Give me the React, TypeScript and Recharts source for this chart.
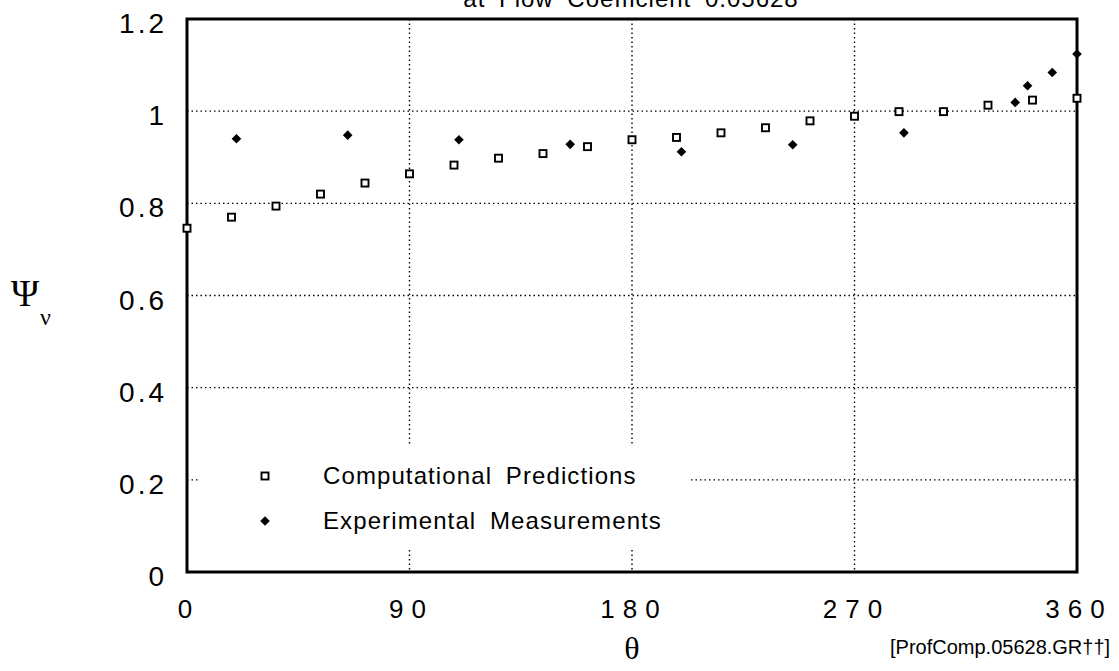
import {
  CartesianGrid,
  Legend,
  ReferenceArea,
  Scatter,
  ScatterChart,
  XAxis,
  YAxis,
} from "recharts";

// computational predictions (every 18 deg)
const compTheta = [0, 18, 36, 54, 72, 90, 108, 126, 144, 162, 180, 198, 216, 234, 252, 270, 288, 306, 324, 342, 360];
const compPsi = [
  0.746, 0.77, 0.794, 0.82, 0.844, 0.864, 0.883, 0.898, 0.908, 0.923, 0.938, 0.943, 0.953, 0.964, 0.979, 0.989,
  0.999, 0.999, 1.013, 1.024, 1.028,
];

// experimental measurements
const expTheta = [20, 65, 110, 155, 200, 245, 290, 335, 340, 350, 360];
const expPsi = [0.94, 0.948, 0.938, 0.928, 0.912, 0.927, 0.953, 1.019, 1.055, 1.084, 1.124];

const xTicks = [0, 90, 180, 270, 360];
const yTicks = [0, 0.2, 0.4, 0.6, 0.8, 1, 1.2];

const COMP_NAME = "Computational Predictions";
const EXP_NAME = "Experimental Measurements";

const FONT = "'Liberation Sans', Arial, Helvetica, sans-serif";
const SERIF = "'Liberation Serif', 'Times New Roman', serif";
const X_SPACING = 8;
const Y_SPACING = 3;

const compData = compTheta.map((theta, i) => ({ theta, psi: compPsi[i] }));
const expData = expTheta.map((theta, i) => ({ theta, psi: expPsi[i] }));

const SquareMark = ({ cx, cy }: { cx?: number; cy?: number }) => (
  <rect x={(cx ?? 0) - 3.5} y={(cy ?? 0) - 3.5} width={7} height={7} fill="#fff" stroke="#000" strokeWidth={1.9} />
);

const DiamondMark = ({ cx, cy }: { cx?: number; cy?: number }) => {
  const x = cx ?? 0;
  const y = cy ?? 0;
  const r = 4.8;
  return <polygon points={`${x},${y - r} ${x + r},${y} ${x},${y + r} ${x - r},${y}`} fill="#000" />;
};

const XTick = ({ x, y, payload }: any) => (
  <text
    x={x + X_SPACING / 2 - 2}
    y={y + 46}
    textAnchor="middle"
    fontFamily={FONT}
    fontSize={26}
    letterSpacing={X_SPACING}
    fill="#000"
  >
    {String(payload.value)}
  </text>
);

const YTick = ({ x, y, payload }: any) => (
  <text
    x={x - 20}
    y={y + 14}
    textAnchor="end"
    fontFamily={FONT}
    fontSize={28}
    letterSpacing={Y_SPACING}
    fill="#000"
  >
    {String(payload.value)}
  </text>
);

const renderLegend = (props: any) => {
  const items = props.payload ?? [];
  return (
    <div style={{ position: "relative", width: 490, height: 105, fontFamily: FONT }}>
      {items.map((entry: any, i: number) => (
        <div key={entry.value} style={{ position: "absolute", left: 0, top: 31 + i * 45 - 15, height: 30, width: 490 }}>
          <svg width={20} height={20} style={{ position: "absolute", left: 55, top: 5 }}>
            {entry.value === COMP_NAME ? <SquareMark cx={10} cy={10} /> : <DiamondMark cx={10} cy={10} />}
          </svg>
          <span
            style={{
              position: "absolute",
              left: 123,
              top: 0,
              lineHeight: "30px",
              fontSize: 24,
              letterSpacing: 1.1,
              wordSpacing: 6,
              color: "#000",
              whiteSpace: "nowrap",
            }}
          >
            {entry.value}
          </span>
        </div>
      ))}
    </div>
  );
};

export default function App() {
  return (
    <div style={{ position: "absolute", left: 0, top: 0, width: 1119, height: 671, background: "#fff" }}>
      <ScatterChart width={1119} height={671} margin={{ top: 19, right: 42, bottom: 39, left: 127 }}>
        <CartesianGrid stroke="#000" strokeWidth={1.4} strokeDasharray="1.5 3" />
        <XAxis
          dataKey="theta"
          type="number"
          domain={[0, 360]}
          ticks={xTicks}
          axisLine={false}
          tickLine={false}
          tickSize={0}
          tickMargin={0}
          height={60}
          tick={<XTick />}
        />
        <YAxis
          dataKey="psi"
          type="number"
          domain={[0, 1.2]}
          ticks={yTicks}
          axisLine={false}
          tickLine={false}
          tickSize={0}
          tickMargin={0}
          width={60}
          tick={<YTick />}
        />
        <ReferenceArea x1={0} x2={360} y1={0} y2={1.2} fill="none" stroke="#000" strokeWidth={3} ifOverflow="visible" />
        <Legend
          layout="vertical"
          align="center"
          verticalAlign="middle"
          wrapperStyle={{ left: 200, top: 445, width: 490, height: 105, background: "#fff" }}
          content={renderLegend}
        />
        <Scatter name={COMP_NAME} data={compData} shape={<SquareMark />} isAnimationActive={false} />
        <Scatter name={EXP_NAME} data={expData} shape={<DiamondMark />} isAnimationActive={false} />
      </ScatterChart>

      <div
        style={{
          position: "absolute",
          left: 331,
          top: -13,
          width: 600,
          textAlign: "center",
          fontFamily: FONT,
          fontSize: 24,
          lineHeight: "24px",
          letterSpacing: 1,
          wordSpacing: 6,
          whiteSpace: "nowrap",
        }}
      >
        at Flow Coefficient 0.05628
      </div>
      <div style={{ position: "absolute", left: 11, top: 273, fontFamily: SERIF, fontSize: 38, lineHeight: "40px" }}>
        Ψ
      </div>
      <div style={{ position: "absolute", left: 40, top: 303, fontFamily: SERIF, fontSize: 24, lineHeight: "28px" }}>
        ν
      </div>
      <div
        style={{
          position: "absolute",
          left: 612,
          top: 628,
          width: 40,
          textAlign: "center",
          fontFamily: SERIF,
          fontSize: 32,
          lineHeight: "40px",
        }}
      >
        θ
      </div>
      <div
        style={{
          position: "absolute",
          left: 890,
          top: 635,
          fontFamily: FONT,
          fontSize: 20,
          lineHeight: "24px",
          whiteSpace: "nowrap",
        }}
      >
        [ProfComp.05628.GR††]
      </div>
    </div>
  );
}
